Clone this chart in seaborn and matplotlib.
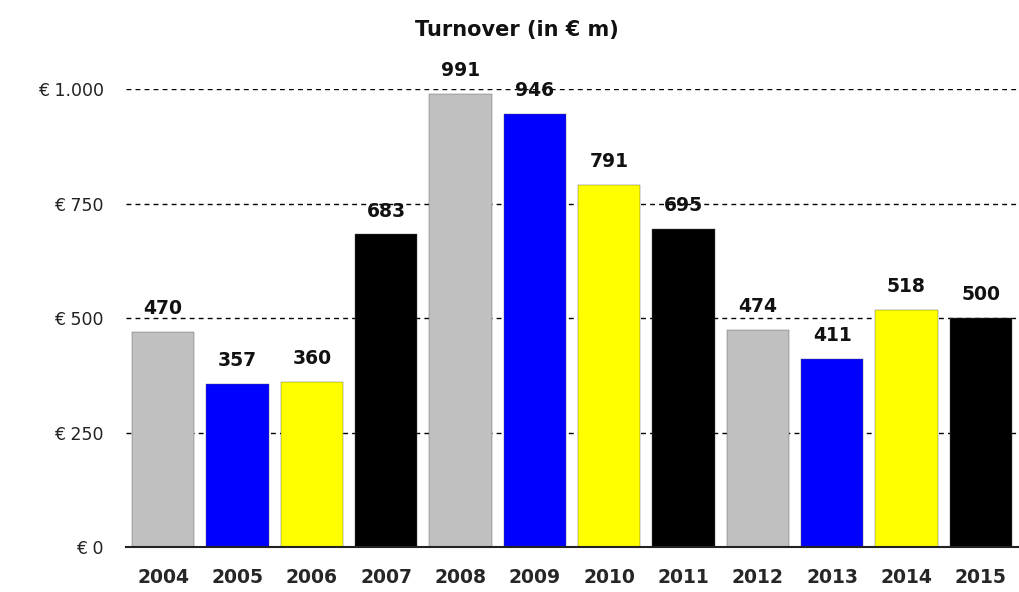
import pandas as pd
import numpy as np
import matplotlib.pyplot as plt
import seaborn as sns

years = ['2004', '2005', '2006', '2007', '2008', '2009', '2010', '2011', '2012', '2013', '2014', '2015']
turnover = [470, 357, 360, 683, 991, 946, 791, 695, 474, 411, 518, 500]
bar_colors = ['#C0C0C0', '#0000FF', '#FFFF00', '#000000'] * 3
yticks = [0, 250, 500, 750, 1000]
ytick_labels = ['€ 0', '€ 250', '€ 500', '€ 750', '€ 1.000']

df = pd.DataFrame({'year': years, 'turnover': turnover})

sns.set_style('white')
plt.rcParams['font.family'] = ['DejaVu Sans']

fig = plt.figure(figsize=(10.2, 5.92), dpi=100)
ax = fig.add_axes([0.1235, 0.076, 0.8745, 0.773])

sns.barplot(data=df, x='year', y='turnover', hue='year', palette=bar_colors,
            legend=False, width=0.84, saturation=1, ax=ax,
            edgecolor='#555555', linewidth=0.3)

for c in ax.containers:
    ax.bar_label(c, fmt='%d', padding=10, fontsize=13.5, fontweight='bold', color='#111111')

ax.set_ylim(0, 1000)
ax.set_xlim(-0.5, 11.5)
ax.set_yticks(yticks)
ax.set_yticklabels(ytick_labels, fontsize=12.5, color='#222222')
ax.set_xlabel('')
ax.set_ylabel('')
ax.tick_params(axis='x', length=0, pad=15)
ax.tick_params(axis='y', length=0, pad=16)
for lbl in ax.get_xticklabels():
    lbl.set_fontsize(13.5)
    lbl.set_fontweight('bold')

for y in yticks[1:]:
    ax.axhline(y, color='black', linestyle=(0, (3.5, 3)), linewidth=1, zorder=0)

for s in ['left', 'right', 'top']:
    ax.spines[s].set_visible(False)
ax.spines['bottom'].set_color('#222222')
ax.spines['bottom'].set_linewidth(1.5)

fig.text(0.507, 0.95, 'Turnover (in € m)', ha='center', va='center',
         fontsize=15, fontweight='bold', color='#111111')

fig.savefig('out.png', dpi=100)
